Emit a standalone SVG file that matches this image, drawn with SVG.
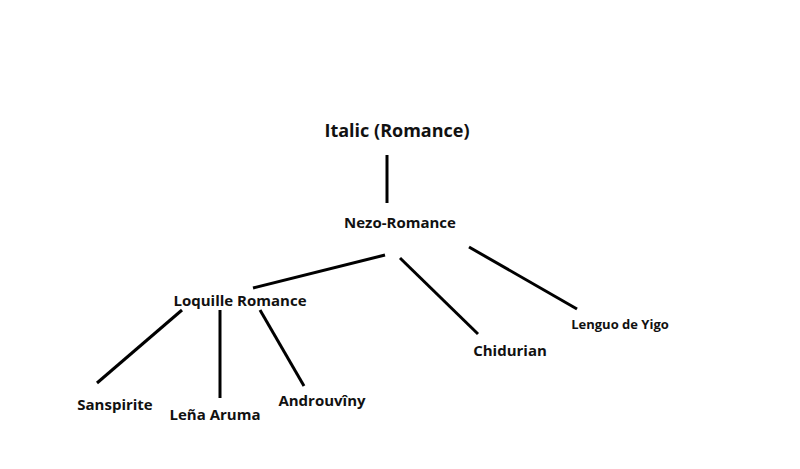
<svg xmlns="http://www.w3.org/2000/svg" width="800" height="469" viewBox="0 0 800 469">
<style>
text{font-family:"Open Sans","DejaVu Sans",sans-serif;font-weight:bold;fill:#111;text-anchor:middle}
.e{stroke:#000;stroke-width:3;fill:none}
</style>
<rect width="800" height="469" fill="#fff"/>
<g id="connectors">
<line class="e" x1="387" y1="155" x2="387" y2="203"/>
<line class="e" x1="385" y1="255" x2="253" y2="288"/>
<line class="e" x1="400" y1="258" x2="478" y2="334"/>
<line class="e" x1="469" y1="247" x2="577" y2="309"/>
<line class="e" x1="182" y1="310" x2="97" y2="383"/>
<line class="e" x1="220" y1="310" x2="220" y2="398"/>
<line class="e" x1="260" y1="310" x2="304" y2="386"/>
</g>
<g id="italic"><text x="397" y="137" font-size="18">Italic (Romance)</text></g>
<g id="nezo"><text x="400" y="228" font-size="15">Nezo-Romance</text></g>
<g id="loquille"><text x="240" y="306" font-size="15">Loquille Romance</text></g>
<g id="chidurian"><text x="510" y="356" font-size="15">Chidurian</text></g>
<g id="lenguo"><text x="620" y="329" font-size="13">Lenguo de Yigo</text></g>
<g id="sanspirite"><text x="115" y="410" font-size="15">Sanspirite</text></g>
<g id="lena"><text x="215" y="420" font-size="15">Leña Aruma</text></g>
<g id="androuviny"><text x="322" y="406" font-size="15">Androuvîny</text></g>
</svg>
